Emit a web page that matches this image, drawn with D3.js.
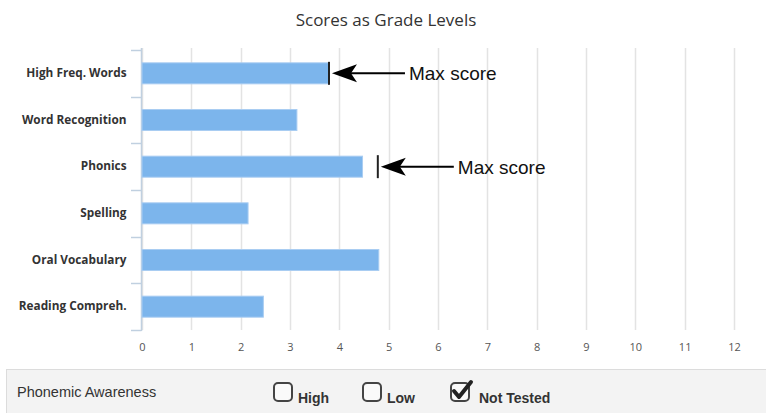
<!DOCTYPE html>
<html>
<head>
<meta charset="utf-8">
<script src="https://cdn.jsdelivr.net/npm/d3@7"></script>
<style>
  body { margin: 0; background: #fff; }
  svg { display: block; }
</style>
</head>
<body>
<div id="chart"></div>
<script>
// chart data
var categories = ['High Freq. Words', 'Word Recognition', 'Phonics', 'Spelling', 'Oral Vocabulary', 'Reading Compreh.'];
var scores = [3.79, 3.14, 4.47, 2.15, 4.8, 2.46];
var maxCategories = ['High Freq. Words', 'Phonics'];
var maxValues = [3.79, 4.78];
var xTicks = [0, 1, 2, 3, 4, 5, 6, 7, 8, 9, 10, 11, 12];
var checkLabels = ['High', 'Low', 'Not Tested'];
var checked = [false, false, true];

var width = 766, height = 413;
var plot = { left: 142, right: 734, top: 50, bottom: 330 };

var svg = d3.select('#chart').append('svg')
	.attr('width', width)
	.attr('height', height);

var xScale = d3.scaleLinear()
	.domain([0, 12])
	.range([plot.left, plot.right]);
var yScale = d3.scaleBand()
	.domain(categories)
	.range([plot.top, plot.bottom])
	.paddingInner(0.55)
	.paddingOuter(0.275);

// title
svg.append('text')
	.attr('x', 386)
	.attr('y', 26)
	.attr('text-anchor', 'middle')
	.style('font-family', 'Open Sans, sans-serif')
	.style('font-size', '17px')
	.style('fill', '#333')
	.text('Scores as Grade Levels');

// vertical grid
svg.append('g')
	.selectAll('line')
	.data(xTicks)
	.enter()
	.append('line')
	.attr('x1', function(d){ return Math.round(xScale(d)) + 0.5; })
	.attr('x2', function(d){ return Math.round(xScale(d)) + 0.5; })
	.attr('y1', 48)
	.attr('y2', plot.bottom)
	.attr('stroke', '#e3e3e3')
	.attr('stroke-width', 1.5);

// category axis line + tick marks between categories
var step = yScale.step();
var firstEdge = yScale(categories[0]) - step * yScale.paddingInner() / 2;
var edges = d3.range(categories.length + 1).map(function(i){ return firstEdge + i * step; });

svg.append('line')
	.attr('x1', plot.left - 0.5)
	.attr('x2', plot.left - 0.5)
	.attr('y1', 48)
	.attr('y2', plot.bottom + 1)
	.attr('stroke', '#c0d0e0')
	.attr('stroke-width', 1.5);
svg.append('g')
	.selectAll('line')
	.data(edges)
	.enter()
	.append('line')
	.attr('x1', plot.left - 11)
	.attr('x2', plot.left - 0.5)
	.attr('y1', function(d){ return Math.round(d) + 0.5; })
	.attr('y2', function(d){ return Math.round(d) + 0.5; })
	.attr('stroke', '#c0d0e0')
	.attr('stroke-width', 1.5);

// category labels
var yAxis = d3.axisLeft(yScale).tickSize(0).tickPadding(15);
var yg = svg.append('g')
	.attr('transform', 'translate(' + (plot.left - 0.5) + ',0)')
	.call(yAxis);
yg.select('.domain').remove();
yg.selectAll('text')
	.style('font-family', 'Open Sans, sans-serif')
	.style('font-size', '11.8px')
	.style('font-weight', 'bold')
	.style('fill', '#333');

// value axis labels
var xAxis = d3.axisBottom(xScale).tickValues(xTicks).tickSize(0).tickPadding(13);
var xg = svg.append('g')
	.attr('transform', 'translate(0,' + plot.bottom + ')')
	.call(xAxis);
xg.select('.domain').remove();
xg.selectAll('text')
	.style('font-family', 'Open Sans, sans-serif')
	.style('font-size', '11px')
	.style('fill', '#555');

// bars
svg.append('g')
	.selectAll('rect')
	.data(categories)
	.enter()
	.append('rect')
	.attr('x', xScale(0))
	.attr('y', function(d){ return yScale(d); })
	.attr('width', function(d, i){ return xScale(scores[i]) - xScale(0); })
	.attr('height', yScale.bandwidth())
	.attr('fill', '#7cb5ec')
	.attr('stroke', '#a9cdf2')
	.attr('stroke-width', 1);

// max score markers with arrows
var markers = svg.append('g')
	.selectAll('g')
	.data(maxCategories)
	.enter()
	.append('g');
markers.append('line')
	.attr('x1', function(d, i){ return xScale(maxValues[i]); })
	.attr('x2', function(d, i){ return xScale(maxValues[i]); })
	.attr('y1', function(d){ return yScale(d) - 1; })
	.attr('y2', function(d){ return yScale(d) + yScale.bandwidth() + 1; })
	.attr('stroke', '#222')
	.attr('stroke-width', 2);
markers.append('path')
	.attr('d', function(d, i){
		var tx = xScale(maxValues[i]) + 3, ty = yScale(d) + yScale.bandwidth() / 2;
		return 'M' + tx + ',' + ty + 'L' + (tx + 25) + ',' + (ty - 9) + 'L' + (tx + 19) + ',' + ty + 'L' + (tx + 25) + ',' + (ty + 9) + 'Z';
	})
	.attr('fill', '#000');
markers.append('line')
	.attr('x1', function(d, i){ return xScale(maxValues[i]) + 20; })
	.attr('x2', function(d, i){ return xScale(maxValues[i]) + 76; })
	.attr('y1', function(d){ return yScale(d) + yScale.bandwidth() / 2; })
	.attr('y2', function(d){ return yScale(d) + yScale.bandwidth() / 2; })
	.attr('stroke', '#000')
	.attr('stroke-width', 2);
markers.append('text')
	.attr('x', function(d, i){ return xScale(maxValues[i]) + 80; })
	.attr('y', function(d){ return yScale(d) + yScale.bandwidth() / 2 + 7; })
	.style('font-family', 'Liberation Sans, Arial, sans-serif')
	.style('font-size', '19px')
	.style('fill', '#111')
	.text('Max score');

// bottom panel
svg.append('rect')
	.attr('x', 6.5)
	.attr('y', 369.5)
	.attr('width', 770)
	.attr('height', 60)
	.attr('fill', '#f3f3f3')
	.attr('stroke', '#dcdcdc');
svg.append('text')
	.attr('x', 17)
	.attr('y', 397)
	.style('font-family', 'Liberation Sans, Arial, sans-serif')
	.style('font-size', '14.5px')
	.style('fill', '#333')
	.text('Phonemic Awareness');

var boxX = [273, 362, 450];
var boxes = svg.append('g')
	.selectAll('g')
	.data(checkLabels)
	.enter()
	.append('g')
	.attr('transform', function(d, i){ return 'translate(' + boxX[i] + ',382)'; });
boxes.append('rect')
	.attr('x', 1)
	.attr('y', 1)
	.attr('width', 18)
	.attr('height', 18)
	.attr('rx', 4)
	.attr('fill', '#fafafa')
	.attr('stroke', '#444')
	.attr('stroke-width', 2);
boxes.filter(function(d, i){ return checked[i]; })
	.append('path')
	.attr('d', 'M4,9 L9,15 L21,0')
	.attr('fill', 'none')
	.attr('stroke', '#222')
	.attr('stroke-width', 4)
	.attr('stroke-linecap', 'round')
	.attr('stroke-linejoin', 'round');
boxes.append('text')
	.attr('x', function(d, i){ return checked[i] ? 29 : 25; })
	.attr('y', 21)
	.style('font-family', 'Liberation Sans, Arial, sans-serif')
	.style('font-size', '14px')
	.style('font-weight', 'bold')
	.style('fill', '#333')
	.text(function(d){ return d; });
</script>
</body>
</html>
